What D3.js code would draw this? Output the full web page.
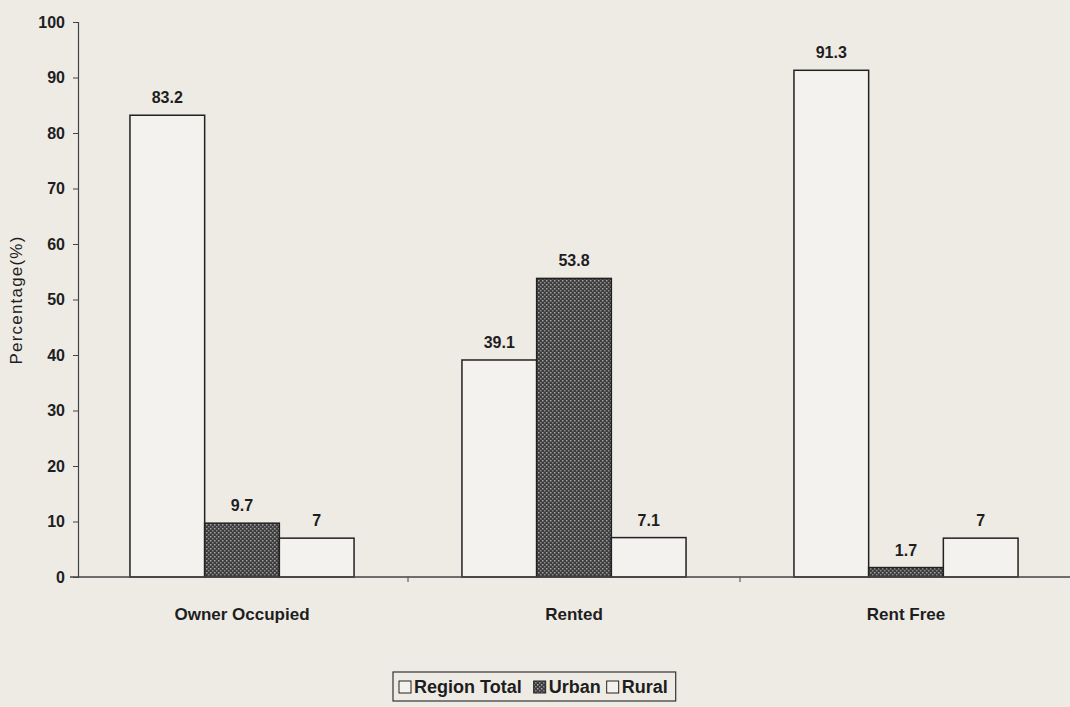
<!DOCTYPE html>
<html>
<head>
<meta charset="utf-8">
<script src="https://cdn.jsdelivr.net/npm/d3@7"></script>
<style>
  body { margin: 0; background: #eeebe5; }
  svg { display: block; }
  text { font-family: "Liberation Sans", Arial, sans-serif; fill: #1e1e1e; }
</style>
</head>
<body>
<svg id="canvas"></svg>
<script>
let categories = ['Owner Occupied', 'Rented', 'Rent Free']
let seriesNames = ['Region Total', 'Urban', 'Rural']
let regionTotal = [83.2, 39.1, 91.3]
let urban = [9.7, 53.8, 1.7]
let rural = [7, 7.1, 7]
let yTicks = [0, 10, 20, 30, 40, 50, 60, 70, 80, 90, 100]

let width = 1070
let height = 707

let canvas = d3.select('#canvas')
canvas.attr('width', width)
      .attr('height', height)

let defs = canvas.append('defs')
let pat = defs.append('pattern')
              .attr('id', 'urbanFill')
              .attr('patternUnits', 'userSpaceOnUse')
              .attr('width', 4)
              .attr('height', 4)
pat.append('rect').attr('width', 4).attr('height', 4).attr('fill', '#3c3c3c')
pat.append('rect').attr('x', 0).attr('y', 0).attr('width', 1.5).attr('height', 1.5).attr('fill', '#a8a8a8')
pat.append('rect').attr('x', 2).attr('y', 2).attr('width', 1.5).attr('height', 1.5).attr('fill', '#8c8c8c')

let rows = categories.map((c, i) => ({
    category: c,
    values: [regionTotal[i], urban[i], rural[i]]
}))

let x0 = d3.scaleBand()
           .domain(categories)
           .range([76, 1072])
           .paddingInner(0.325)
           .paddingOuter(0.1625)

let x1 = d3.scaleBand()
           .domain(seriesNames)
           .range([0, x0.bandwidth()])

let yScale = d3.scaleLinear()
               .domain([0, 100])
               .range([577, 22])

let fills = { 'Region Total': '#f4f2ee', 'Urban': 'url(#urbanFill)', 'Rural': '#f4f2ee' }

// bars
let groups = canvas.selectAll('g.group')
      .data(rows)
      .enter()
      .append('g')
      .attr('class', 'group')
      .attr('transform', (d) => 'translate(' + x0(d.category) + ',0)')

groups.selectAll('rect')
      .data((d) => d.values.map((v, i) => ({ name: seriesNames[i], value: v })))
      .enter()
      .append('rect')
      .attr('x', (d) => x1(d.name))
      .attr('y', (d) => yScale(d.value))
      .attr('width', x1.bandwidth())
      .attr('height', (d) => yScale(0) - yScale(d.value))
      .attr('fill', (d) => fills[d.name])
      .attr('stroke', '#222')
      .attr('stroke-width', 1.5)

groups.selectAll('text.val')
      .data((d) => d.values.map((v, i) => ({ name: seriesNames[i], value: v })))
      .enter()
      .append('text')
      .attr('class', 'val')
      .attr('x', (d) => x1(d.name) + x1.bandwidth() / 2)
      .attr('y', (d) => yScale(d.value) - 12)
      .attr('text-anchor', 'middle')
      .style('font-size', '16px')
      .style('font-weight', 'bold')
      .text((d) => d.value)

// y axis
let yAxis = d3.axisLeft(yScale)
              .tickValues(yTicks)
              .tickSize(5)
              .tickPadding(8)

let yg = canvas.append('g')
      .attr('transform', 'translate(78,0)')
      .call(yAxis)
yg.select('.domain').attr('stroke', '#444').attr('stroke-width', 1.2)
yg.selectAll('.tick line').attr('stroke', '#444')
yg.selectAll('.tick text')
  .style('font-size', '16px')
  .style('font-weight', 'bold')
  .attr('fill', '#222')

// x axis
let xg = canvas.append('g')
      .attr('transform', 'translate(0,577)')
xg.append('line')
  .attr('x1', 70)
  .attr('x2', 1070)
  .attr('stroke', '#444')
  .attr('stroke-width', 1.5)
xg.selectAll('line.sep')
  .data(categories.slice(1))
  .enter()
  .append('line')
  .attr('class', 'sep')
  .attr('x1', (d) => x0(d) - x0.step() * x0.paddingInner() / 2)
  .attr('x2', (d) => x0(d) - x0.step() * x0.paddingInner() / 2)
  .attr('y1', 0)
  .attr('y2', 5)
  .attr('stroke', '#444')
xg.selectAll('text')
  .data(categories)
  .enter()
  .append('text')
  .attr('x', (d) => x0(d) + x0.bandwidth() / 2)
  .attr('y', 43)
  .attr('text-anchor', 'middle')
  .style('font-size', '17px')
  .style('font-weight', 'bold')
  .text((d) => d)

// y label
canvas.append('text')
      .attr('transform', 'translate(22,300) rotate(-90)')
      .attr('text-anchor', 'middle')
      .style('font-size', '17px')
      .style('letter-spacing', '1.2px')
      .text('Percentage(%)')

// legend
let legend = canvas.append('g').attr('transform', 'translate(393,672)')
let box = legend.append('rect')
      .attr('height', 29)
      .attr('fill', 'none')
      .attr('stroke', '#333')
      .attr('stroke-width', 1.2)
let lx = 6
seriesNames.forEach((name, i) => {
    legend.append('rect')
          .attr('x', lx)
          .attr('y', 9)
          .attr('width', 12)
          .attr('height', 12)
          .attr('fill', fills[name])
          .attr('stroke', '#222')
    let t = legend.append('text')
          .attr('x', lx + 15)
          .attr('y', 21)
          .style('font-size', '18px')
          .style('font-weight', 'bold')
          .text(name)
    lx += 15 + t.node().getComputedTextLength() + (i === 0 ? 12 : 6)
})
box.attr('width', lx + 2)
</script>
</body>
</html>
